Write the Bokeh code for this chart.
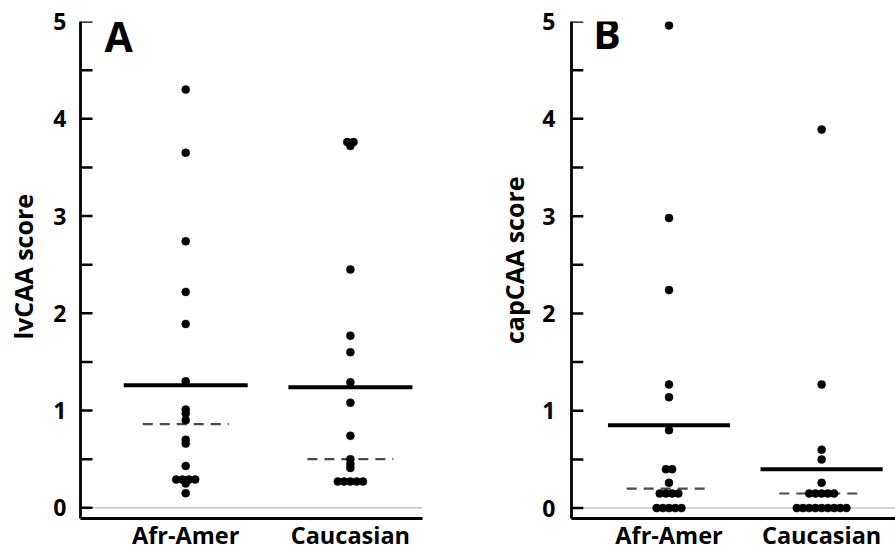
from bokeh.plotting import figure
from bokeh.models import FixedTicker, Span, ColumnDataSource, Range1d
from bokeh.layouts import row
from bokeh.embed import file_html
from bokeh.resources import INLINE
from bokeh.core.properties import value

# ---------------- data ----------------
categories = ["Afr-Amer", "Caucasian"]
cat_pos = [1, 2]
y_ticks = [0, 1, 2, 3, 4, 5]
y_minor = [0.5, 1.5, 2.5, 3.5, 4.5]

# Panel A: lvCAA score
lv_afr = [4.30, 3.65, 2.74, 2.22, 1.89, 1.30, 1.01, 0.97, 0.90, 0.70, 0.66,
          0.43, 0.29, 0.29, 0.29, 0.29, 0.25, 0.15]
lv_cau = [3.76, 3.76, 3.72, 2.45, 1.77, 1.60, 1.29, 1.08, 0.74, 0.50, 0.45,
          0.41, 0.27, 0.27, 0.27, 0.27, 0.27]
lv_mean = [1.26, 1.24]
lv_median = [0.86, 0.50]

# Panel B: capCAA score
cap_afr = [4.96, 2.98, 2.24, 1.27, 1.14, 0.80, 0.40, 0.40, 0.26,
           0.15, 0.15, 0.15, 0.15, 0, 0, 0, 0, 0]
cap_cau = [3.89, 1.27, 0.60, 0.50, 0.26, 0.15, 0.15, 0.15, 0.15, 0.15,
           0, 0, 0, 0, 0, 0, 0, 0, 0]
cap_mean = [0.85, 0.40]
cap_median = [0.20, 0.15]

FONT = "Open Sans"
NB = "\u00a0"


def swarm(vals, center, step):
    counts = {}
    for v in vals:
        counts[v] = counts.get(v, 0) + 1
    seen = {}
    xs = []
    for v in vals:
        n = counts[v]
        i = seen.get(v, 0)
        seen[v] = i + 1
        xs.append(center + (i - (n - 1) / 2) * step)
    return xs


def make_panel(letter, ylabel, afr, cau, means, medians, left, frame_w,
               right, top, frame_h, bottom, xr, yr, tick_standoff,
               lab_standoff, letter_px):
    pyu = frame_h / (yr[1] - yr[0])
    pxu = frame_w / (xr[1] - xr[0])

    p = figure(width=left + frame_w + right, height=top + frame_h + bottom,
               x_range=Range1d(*xr), y_range=Range1d(*yr),
               output_backend="svg", toolbar_location=None,
               min_border_left=left, min_border_right=right,
               min_border_top=top, min_border_bottom=bottom)
    p.outline_line_color = None
    p.xgrid.visible = False
    p.ygrid.visible = False
    p.background_fill_color = "white"
    p.border_fill_color = "white"

    # zero reference line
    p.add_layout(Span(location=0, dimension="width", line_color="#c4c4c4",
                      line_width=1.5, level="underlay"))

    # y axis
    ya = p.yaxis[0]
    ya.ticker = FixedTicker(ticks=y_ticks, minor_ticks=y_minor)
    ya.axis_line_color = "black"
    ya.axis_line_width = 2.8
    ya.major_tick_line_color = None
    ya.minor_tick_line_color = None
    ya.major_tick_in = 0
    ya.major_tick_out = 0
    ya.minor_tick_in = 0
    ya.minor_tick_out = 0
    ya.major_label_text_font = FONT
    ya.major_label_text_font_style = "bold"
    ya.major_label_text_font_size = "23px"
    ya.major_label_text_color = "black"
    ya.major_label_standoff = tick_standoff
    ya.axis_label = ylabel
    ya.axis_label_text_font = FONT
    ya.axis_label_text_font_style = "bold"
    ya.axis_label_text_font_size = "25px"
    ya.axis_label_text_color = "black"
    ya.axis_label_standoff = lab_standoff

    # x axis with category names
    xa = p.xaxis[0]
    xa.ticker = FixedTicker(ticks=cat_pos, minor_ticks=[])
    xa.major_label_overrides = {c: n for c, n in zip(cat_pos, categories)}
    xa.axis_line_color = "black"
    xa.axis_line_width = 3
    xa.major_tick_in = 0
    xa.major_tick_out = 0
    xa.minor_tick_in = 0
    xa.minor_tick_out = 0
    xa.major_label_text_font = FONT
    xa.major_label_text_font_style = "bold"
    xa.major_label_text_font_size = "23.5px"
    xa.major_label_text_color = "black"
    xa.major_label_standoff = 0

    # inward ticks on the y axis (drawn through the same scale)
    tick_len = 12 / pxu
    all_ticks = y_ticks + y_minor
    p.segment(x0=[xr[0]] * len(all_ticks),
              x1=[xr[0] + tick_len] * len(all_ticks),
              y0=all_ticks, y1=all_ticks, line_color="black", line_width=2.5)

    # mean (solid) and median (dashed) bars
    hw_solid = 62 / pxu
    hw_dash = 43 / pxu
    src_mean = ColumnDataSource(dict(
        x0=[c - hw_solid for c in cat_pos], x1=[c + hw_solid for c in cat_pos],
        y=means))
    src_med = ColumnDataSource(dict(
        x0=[c - hw_dash for c in cat_pos], x1=[c + hw_dash for c in cat_pos],
        y=medians))

    p.segment(x0="x0", x1="x1", y0="y", y1="y", source=src_med,
              line_color="#4a4a4a", line_width=2.2, line_dash="10 7")

    step = 6.3 / pxu
    xs = swarm(afr, cat_pos[0], step) + swarm(cau, cat_pos[1], step)
    ys = list(afr) + list(cau)
    p.scatter(x=xs, y=ys, size=8, marker="circle", fill_color="black",
              line_color="black", line_width=0.5)

    p.segment(x0="x0", x1="x1", y0="y", y1="y", source=src_mean,
              line_color="black", line_width=4)

    # panel letter
    lx = xr[0] + letter_px[0] / pxu
    ly = yr[1] - letter_px[1] / pyu
    p.text(x=[lx], y=[ly], text=[letter], text_font=value(FONT),
           text_font_style="bold", text_font_size="41px", text_color="black",
           text_align="left", text_baseline="alphabetic")
    return p


# panel A: frame 80..422 x 21..518
pA = make_panel("A", NB + "lvCAA score", lv_afr, lv_cau, lv_mean, lv_median,
                left=80, frame_w=342, right=72, top=21, frame_h=497, bottom=37,
                xr=(0.361, 2.438), yr=(-0.110, 5.0), tick_standoff=14,
                lab_standoff=10, letter_px=(24, 14.5))
# panel B: frame 566..895 x 17..518
pB = make_panel("B", NB * 3 + "capCAA score", cap_afr, cap_cau, cap_mean,
                cap_median, left=72, frame_w=329, right=0, top=17,
                frame_h=501, bottom=37, xr=(0.361, 2.484), yr=(-0.107, 5.0),
                tick_standoff=16, lab_standoff=8, letter_px=(22, 11.5))

layout = row(pA, pB)
open("out.html", "w").write(file_html(layout, INLINE))
